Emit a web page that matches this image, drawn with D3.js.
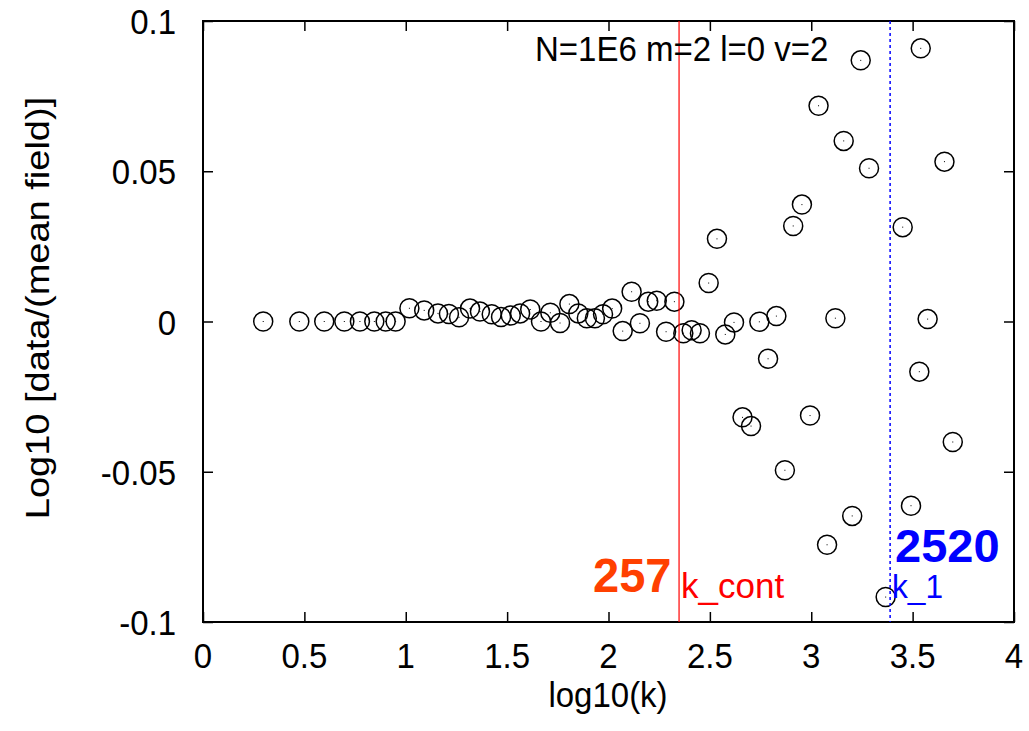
<!DOCTYPE html>
<html>
<head>
<meta charset="utf-8">
<script src="https://cdn.jsdelivr.net/npm/d3@7"></script>
<style>
  body { margin: 0; background: #fff; }
  text { font-family: "Liberation Sans", Arial, sans-serif; }
</style>
</head>
<body>
<svg id="chart" width="1029" height="731"></svg>
<script>
const xTicks = [0, 0.5, 1, 1.5, 2, 2.5, 3, 3.5, 4];
const yTicks = [-0.1, -0.05, 0, 0.05, 0.1];

// log10(k) of each bin and log10 of data / mean field
const logK = [
  0.297, 0.475, 0.598, 0.697, 0.774, 0.845, 0.901, 0.950,
  1.018, 1.091, 1.159, 1.213, 1.263, 1.317, 1.366, 1.424, 1.470, 1.518,
  1.564, 1.614, 1.667, 1.713, 1.761, 1.807, 1.851, 1.893, 1.933, 1.973,
  2.018, 2.070, 2.114, 2.155, 2.196, 2.238, 2.284, 2.325, 2.369, 2.410,
  2.451, 2.494, 2.535, 2.576, 2.619, 2.661, 2.703, 2.744, 2.787, 2.828,
  2.870, 2.911, 2.954, 2.994, 3.036, 3.078, 3.119, 3.160, 3.202, 3.244,
  3.285, 3.367, 3.451, 3.492, 3.533, 3.540, 3.574, 3.657, 3.698
];
const logRatio = [
  0, 0, 0, 0, 0, 0, 0, 0,
  0.0044, 0.0037, 0.0027, 0.0025, 0.0014, 0.0043, 0.0033, 0.0024, 0.0015, 0.0020,
  0.0027, 0.0040, 0.0000, 0.0029, -0.0005, 0.0058, 0.0027, 0.0011, 0.0011, 0.0024,
  0.0043, -0.0032, 0.0099, -0.0006, 0.0066, 0.0069, -0.0034, 0.0066, -0.0039, -0.0029,
  -0.0039, 0.0128, 0.0275, -0.0043, -0.0003, -0.0319, -0.0348, -0.0001, -0.0124, 0.0018,
  -0.0495, 0.0318, 0.0389, -0.0313, 0.0718, -0.0743, 0.0011, 0.0601, -0.0647, 0.0869,
  0.0510, -0.0917, 0.0314, -0.0613, -0.0167, 0.0909, 0.0008, 0.0532, -0.0401
];

const kContX = 2.348;
const k1X = 3.389;

const svg = d3.select("#chart");
const plotL = 203, plotR = 1014, plotT = 21, plotB = 622;
const x = d3.scaleLinear().domain([0, 4]).range([plotL, plotR]);
const y = d3.scaleLinear().domain([-0.1, 0.1]).range([plotB, plotT]);

// text in the picture is a little condensed sideways
function label(px, py, str, o) {
  const sx = o.sx || 0.917;
  const rot = o.rotate ? " rotate(-90) scale(1," + sx + ")" : " scale(" + sx + ",1)";
  return svg.append("text")
    .attr("transform", `translate(${px},${py})${rot}`)
    .attr("font-size", o.size || 36)
    .attr("font-weight", o.bold ? "bold" : "normal")
    .attr("text-anchor", o.anchor || "start")
    .attr("fill", o.color || "#000")
    .text(str);
}

// ticks (inward, mirrored on all sides)
const tickLen = 10;
svg.append("g").attr("transform", `translate(0,${plotB})`)
  .call(d3.axisBottom(x).tickValues(xTicks).tickSize(-tickLen).tickFormat(""));
svg.append("g").attr("transform", `translate(0,${plotT})`)
  .call(d3.axisTop(x).tickValues(xTicks).tickSize(-tickLen).tickFormat(""));
svg.append("g").attr("transform", `translate(${plotL},0)`)
  .call(d3.axisLeft(y).tickValues(yTicks).tickSize(-tickLen).tickFormat(""));
svg.append("g").attr("transform", `translate(${plotR},0)`)
  .call(d3.axisRight(y).tickValues(yTicks).tickSize(-tickLen).tickFormat(""));
svg.selectAll(".domain").remove();
svg.selectAll(".tick line").attr("stroke", "#000").attr("stroke-width", 1.5);

// frame
svg.append("rect")
  .attr("x", plotL).attr("y", plotT)
  .attr("width", plotR - plotL).attr("height", plotB - plotT)
  .attr("fill", "none").attr("stroke", "#000").attr("stroke-width", 2);

// tick labels
xTicks.forEach((t) => label(x(t), 668, String(t), { anchor: "middle" }));
yTicks.forEach((t) => label(176, y(t) + 13, String(t), { anchor: "end" }));

// axis titles
label(608, 707, "log10(k)", { anchor: "middle" });
label(49, 308, "Log10 [data/(mean field)]", { anchor: "middle", rotate: true, size: 38, sx: 0.87 });

// points
const pts = logK.map((k, i) => ({ k: k, r: logRatio[i] }));
const g = svg.append("g");
g.selectAll("circle.pt").data(pts).enter().append("circle")
  .attr("class", "pt")
  .attr("cx", (d) => x(d.k)).attr("cy", (d) => y(d.r))
  .attr("r", 9.5)
  .attr("fill", "none").attr("stroke", "#000").attr("stroke-width", 1.5);
g.selectAll("rect.dot").data(pts).enter().append("rect")
  .attr("class", "dot")
  .attr("x", (d) => x(d.k) - 0.5).attr("y", (d) => y(d.r) - 0.5)
  .attr("width", 1).attr("height", 1)
  .attr("fill", "#000");

// marker lines
svg.append("line")
  .attr("x1", x(kContX)).attr("x2", x(kContX))
  .attr("y1", plotT).attr("y2", plotB)
  .attr("stroke", "#ff0000").attr("stroke-width", 1.2);
svg.append("line")
  .attr("x1", x(k1X)).attr("x2", x(k1X))
  .attr("y1", plotT).attr("y2", plotB)
  .attr("stroke", "#0000ff").attr("stroke-width", 1.5)
  .attr("stroke-dasharray", "3,3");

// annotations
label(535, 61, "N=1E6 m=2 l=0 v=2", {});
label(593, 592, "257", { size: 48, bold: true, color: "#ff4000", sx: 0.98 });
label(681, 598, "k_cont", { size: 35, color: "#ff0000", sx: 1 });
label(895, 562, "2520", { size: 47, bold: true, color: "#0000ff", sx: 1 });
label(892, 598, "k_1", { size: 33, color: "#0000ff", sx: 0.96 });
</script>
</body>
</html>
